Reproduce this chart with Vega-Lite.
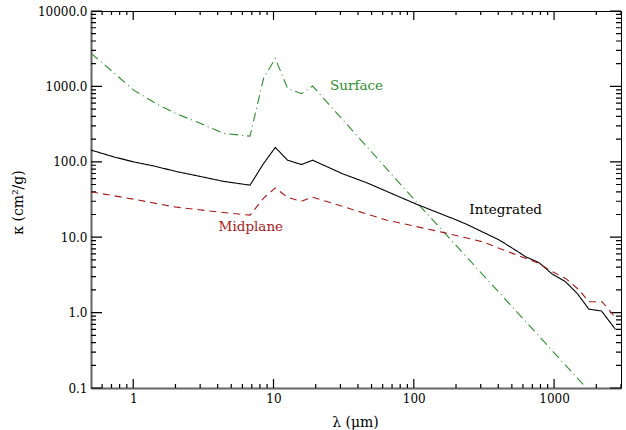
{
  "$schema": "https://vega.github.io/schema/vega-lite/v6.json",
  "width": 530,
  "height": 377,
  "autosize": {"type": "none"},
  "padding": {"left": 91, "top": 11, "right": 5, "bottom": 42},
  "background": "white",
  "config": {
    "view": {"stroke": "black", "strokeWidth": 1},
    "axis": {
      "grid": false,
      "labelFont": "DejaVu Serif",
      "labelFontSize": 12,
      "labelColor": "black",
      "titleFont": "DejaVu Serif",
      "titleFontSize": 14,
      "titleFontWeight": "normal",
      "titleColor": "black"
    }
  },
  "datasets": {
    "curves": [
      {"series": "Surface", "lambda": 0.5, "kappa": 2750},
      {"series": "Surface", "lambda": 0.69, "kappa": 1650},
      {"series": "Surface", "lambda": 1.0, "kappa": 900},
      {"series": "Surface", "lambda": 1.48, "kappa": 580},
      {"series": "Surface", "lambda": 2.05, "kappa": 430},
      {"series": "Surface", "lambda": 3.0, "kappa": 325},
      {"series": "Surface", "lambda": 4.4, "kappa": 238},
      {"series": "Surface", "lambda": 6.8, "kappa": 219},
      {"series": "Surface", "lambda": 8.5, "kappa": 1280},
      {"series": "Surface", "lambda": 10.3, "kappa": 2350},
      {"series": "Surface", "lambda": 12.6, "kappa": 940},
      {"series": "Surface", "lambda": 15.8, "kappa": 800},
      {"series": "Surface", "lambda": 19.0, "kappa": 1010},
      {"series": "Surface", "lambda": 104, "kappa": 29.5},
      {"series": "Surface", "lambda": 1660, "kappa": 0.105},
      {"series": "Integrated", "lambda": 0.5, "kappa": 143},
      {"series": "Integrated", "lambda": 0.73, "kappa": 116},
      {"series": "Integrated", "lambda": 1.0, "kappa": 100},
      {"series": "Integrated", "lambda": 1.4, "kappa": 88},
      {"series": "Integrated", "lambda": 2.05, "kappa": 74},
      {"series": "Integrated", "lambda": 3.0, "kappa": 64},
      {"series": "Integrated", "lambda": 4.4, "kappa": 55},
      {"series": "Integrated", "lambda": 6.8, "kappa": 49},
      {"series": "Integrated", "lambda": 8.5, "kappa": 95},
      {"series": "Integrated", "lambda": 10.3, "kappa": 155},
      {"series": "Integrated", "lambda": 12.6, "kappa": 105},
      {"series": "Integrated", "lambda": 15.8, "kappa": 92},
      {"series": "Integrated", "lambda": 19.0, "kappa": 105},
      {"series": "Integrated", "lambda": 31.3, "kappa": 69},
      {"series": "Integrated", "lambda": 45.9, "kappa": 53},
      {"series": "Integrated", "lambda": 104, "kappa": 27.5},
      {"series": "Integrated", "lambda": 200, "kappa": 17},
      {"series": "Integrated", "lambda": 235, "kappa": 15},
      {"series": "Integrated", "lambda": 406, "kappa": 9.2},
      {"series": "Integrated", "lambda": 533, "kappa": 6.7},
      {"series": "Integrated", "lambda": 628, "kappa": 5.5},
      {"series": "Integrated", "lambda": 781, "kappa": 4.6},
      {"series": "Integrated", "lambda": 971, "kappa": 3.24},
      {"series": "Integrated", "lambda": 1208, "kappa": 2.56},
      {"series": "Integrated", "lambda": 1461, "kappa": 1.8},
      {"series": "Integrated", "lambda": 1770, "kappa": 1.11},
      {"series": "Integrated", "lambda": 2180, "kappa": 1.05},
      {"series": "Integrated", "lambda": 2740, "kappa": 0.6},
      {"series": "Midplane", "lambda": 0.5, "kappa": 40},
      {"series": "Midplane", "lambda": 1.0, "kappa": 32},
      {"series": "Midplane", "lambda": 1.94, "kappa": 25.3},
      {"series": "Midplane", "lambda": 3.95, "kappa": 21.7},
      {"series": "Midplane", "lambda": 6.8, "kappa": 19.6},
      {"series": "Midplane", "lambda": 8.5, "kappa": 33},
      {"series": "Midplane", "lambda": 10.3, "kappa": 45},
      {"series": "Midplane", "lambda": 12.6, "kappa": 33.7},
      {"series": "Midplane", "lambda": 15.8, "kappa": 30},
      {"series": "Midplane", "lambda": 19.0, "kappa": 34},
      {"series": "Midplane", "lambda": 63.7, "kappa": 16.9},
      {"series": "Midplane", "lambda": 161, "kappa": 11.6},
      {"series": "Midplane", "lambda": 309, "kappa": 8.7},
      {"series": "Midplane", "lambda": 505, "kappa": 6.1},
      {"series": "Midplane", "lambda": 760, "kappa": 4.6},
      {"series": "Midplane", "lambda": 971, "kappa": 3.5},
      {"series": "Midplane", "lambda": 1208, "kappa": 2.84},
      {"series": "Midplane", "lambda": 1507, "kappa": 2.0},
      {"series": "Midplane", "lambda": 1770, "kappa": 1.39},
      {"series": "Midplane", "lambda": 2200, "kappa": 1.39},
      {"series": "Midplane", "lambda": 2600, "kappa": 0.97},
      {"series": "Midplane", "lambda": 2740, "kappa": 0.82}
    ],
    "labels": [
      {"series": "Surface", "label": "Surface", "lambda": 25.3, "kappa": 1010},
      {"series": "Integrated", "label": "Integrated", "lambda": 249, "kappa": 22.9},
      {"series": "Midplane", "label": "Midplane", "lambda": 4.06, "kappa": 13.7}
    ],
    "xmajor": [{"lambda": 1}, {"lambda": 10}, {"lambda": 100}, {"lambda": 1000}],
    "xminor": [
      {"lambda": 0.6}, {"lambda": 0.7}, {"lambda": 0.8}, {"lambda": 0.9},
      {"lambda": 2}, {"lambda": 3}, {"lambda": 4}, {"lambda": 5}, {"lambda": 6}, {"lambda": 7}, {"lambda": 8}, {"lambda": 9},
      {"lambda": 20}, {"lambda": 30}, {"lambda": 40}, {"lambda": 50}, {"lambda": 60}, {"lambda": 70}, {"lambda": 80}, {"lambda": 90},
      {"lambda": 200}, {"lambda": 300}, {"lambda": 400}, {"lambda": 500}, {"lambda": 600}, {"lambda": 700}, {"lambda": 800}, {"lambda": 900},
      {"lambda": 2000}, {"lambda": 3000}
    ],
    "ymajor": [{"kappa": 0.1}, {"kappa": 1}, {"kappa": 10}, {"kappa": 100}, {"kappa": 1000}, {"kappa": 10000}],
    "yminor": [
      {"kappa": 0.2}, {"kappa": 0.3}, {"kappa": 0.4}, {"kappa": 0.5}, {"kappa": 0.6}, {"kappa": 0.7}, {"kappa": 0.8}, {"kappa": 0.9},
      {"kappa": 2}, {"kappa": 3}, {"kappa": 4}, {"kappa": 5}, {"kappa": 6}, {"kappa": 7}, {"kappa": 8}, {"kappa": 9},
      {"kappa": 20}, {"kappa": 30}, {"kappa": 40}, {"kappa": 50}, {"kappa": 60}, {"kappa": 70}, {"kappa": 80}, {"kappa": 90},
      {"kappa": 200}, {"kappa": 300}, {"kappa": 400}, {"kappa": 500}, {"kappa": 600}, {"kappa": 700}, {"kappa": 800}, {"kappa": 900},
      {"kappa": 2000}, {"kappa": 3000}, {"kappa": 4000}, {"kappa": 5000}, {"kappa": 6000}, {"kappa": 7000}, {"kappa": 8000}, {"kappa": 9000}
    ]
  },
  "layer": [
    {
      "data": {"name": "xmajor"},
      "mark": {"type": "rule", "color": "black", "strokeWidth": 1.2, "strokeDash": [9, 359, 9]},
      "encoding": {
        "x": {"field": "lambda", "type": "quantitative", "scale": {"type": "log", "domain": [0.5, 3000], "nice": false}},
        "y": {"datum": 0.1, "type": "quantitative", "scale": {"type": "log", "domain": [0.1, 10000], "nice": false}},
        "y2": {"datum": 10000}
      }
    },
    {
      "data": {"name": "xminor"},
      "mark": {"type": "rule", "color": "black", "strokeWidth": 1.2, "strokeDash": [4, 369, 4]},
      "encoding": {
        "x": {"field": "lambda", "type": "quantitative"},
        "y": {"datum": 0.1, "type": "quantitative"},
        "y2": {"datum": 10000}
      }
    },
    {
      "data": {"name": "ymajor"},
      "mark": {"type": "rule", "color": "black", "strokeWidth": 1.2, "strokeDash": [11, 508, 11]},
      "encoding": {
        "y": {"field": "kappa", "type": "quantitative"},
        "x": {"datum": 0.5, "type": "quantitative"},
        "x2": {"datum": 3000}
      }
    },
    {
      "data": {"name": "yminor"},
      "mark": {"type": "rule", "color": "black", "strokeWidth": 1.2, "strokeDash": [5, 520, 5]},
      "encoding": {
        "y": {"field": "kappa", "type": "quantitative"},
        "x": {"datum": 0.5, "type": "quantitative"},
        "x2": {"datum": 3000}
      }
    },
    {
      "data": {"name": "curves"},
      "mark": {"type": "line", "strokeWidth": 1.1, "clip": true},
      "encoding": {
        "x": {
          "field": "lambda", "type": "quantitative",
          "axis": {
            "orient": "bottom",
            "values": [1, 10, 100, 1000],
            "format": "d",
            "ticks": false,
            "tickSize": 0,
            "labelPadding": 5,
            "labelFlush": false,
            "labelOverlap": false,
            "domainColor": "#666666",
            "domainWidth": 2,
            "title": "λ  (μm)",
            "titleX": 264,
            "titleY": 34,
            "titleBaseline": "middle",
            "titleAnchor": null
          }
        },
        "y": {
          "field": "kappa", "type": "quantitative",
          "axis": {
            "orient": "left",
            "values": [0.1, 1, 10, 100, 1000, 10000],
            "format": ".1f",
            "ticks": false,
            "tickSize": 0,
            "labelPadding": 4,
            "labelFlush": false,
            "labelOverlap": false,
            "domainColor": "#666666",
            "domainWidth": 2,
            "title": "κ   (cm²/g)",
            "titleX": -73,
            "titleY": 191,
            "titleAngle": -90,
            "titleBaseline": "middle",
            "titleAlign": "center",
            "titleAnchor": null
          }
        },
        "color": {
          "field": "series", "type": "nominal",
          "scale": {"domain": ["Integrated", "Midplane", "Surface"], "range": ["#000000", "#a81818", "#2e8f2e"]},
          "legend": null
        },
        "strokeDash": {
          "field": "series", "type": "nominal",
          "scale": {"domain": ["Integrated", "Midplane", "Surface"], "range": [[1, 0], [7, 5], [9, 4, 1, 4]]},
          "legend": null
        }
      }
    },
    {
      "data": {"name": "labels"},
      "mark": {"type": "text", "align": "left", "baseline": "middle", "font": "DejaVu Serif", "fontSize": 13.5},
      "encoding": {
        "x": {"field": "lambda", "type": "quantitative"},
        "y": {"field": "kappa", "type": "quantitative"},
        "text": {"field": "label", "type": "nominal"},
        "color": {"field": "series", "type": "nominal", "legend": null}
      }
    }
  ]
}
